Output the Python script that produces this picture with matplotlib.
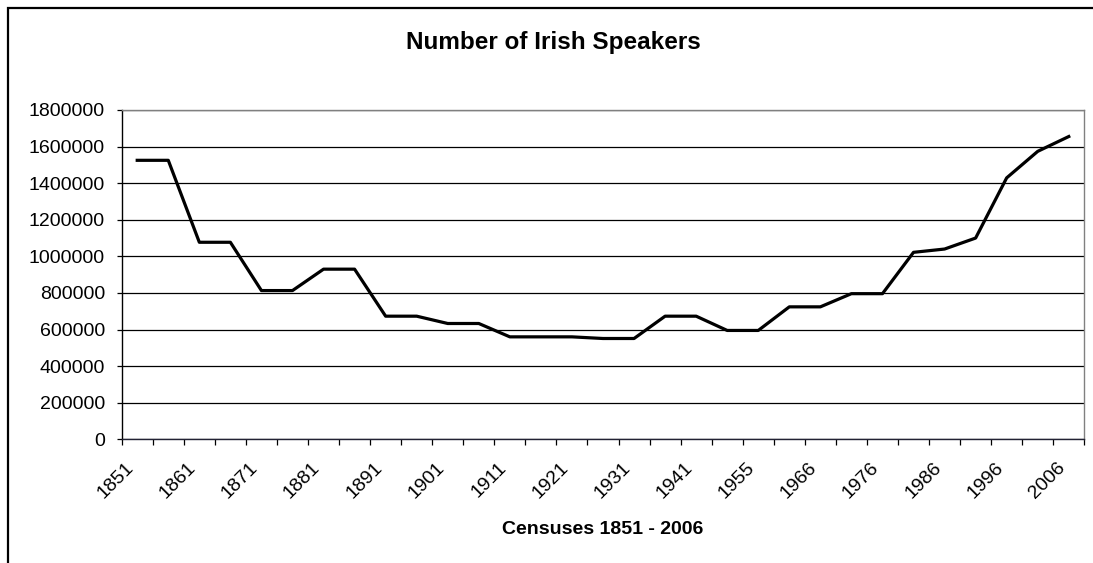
import matplotlib
matplotlib.use('Agg')
import matplotlib.pyplot as plt
import numpy as np
from matplotlib.patches import Rectangle
from matplotlib.ticker import FuncFormatter

# census labels (shown on every other category)
census_labels = ['1851', '1861', '1871', '1881', '1891', '1901', '1911', '1921',
                 '1931', '1941', '1955', '1966', '1976', '1986', '1996', '2006']

# number of Irish speakers, one value per category (31 categories)
speakers = [1525000, 1525000, 1077000, 1077000, 813000, 813000, 930000, 930000,
            673000, 673000, 633000, 633000, 560000, 560000, 560000, 551000,
            551000, 673000, 673000, 595000, 595000, 724000, 724000, 796000,
            796000, 1022000, 1040000, 1100000, 1429000, 1574000, 1655000]

title = 'Number of Irish Speakers'
xlabel = 'Censuses 1851 - 2006'


def plot_speakers(plot_file):
    plt.rcParams['font.family'] = ['Liberation Sans', 'DejaVu Sans']
    W, H = 1093, 563
    fig = plt.figure(figsize=(W / 100, H / 100), dpi=100)

    # plot area in pixels: left 121.7, right 1084.3, top 110, bottom 439.3
    left, right, top, bottom = 121.7, 1084.3, 110.0, 439.3
    ax = fig.add_axes([left / W, 1 - bottom / H, (right - left) / W, (bottom - top) / H])

    x = np.arange(len(speakers))
    ax.plot(x, speakers, color='black', lw=2.3, zorder=3)

    ax.set_xlim(-0.5, len(speakers) - 0.5)
    ax.set_ylim(0, 1800000)
    ax.set_yticks(range(0, 1800001, 200000))
    ax.yaxis.set_major_formatter(FuncFormatter(lambda v, p: '{:d}'.format(int(v))))
    ax.yaxis.grid(True, color='black', lw=0.9)
    ax.set_axisbelow(True)

    ax.set_xticks(x[::2])
    ax.set_xticklabels(census_labels, rotation=45, ha='right')
    ax.set_xticks(np.arange(-0.5, len(speakers), 1), minor=True)
    ax.tick_params(axis='x', which='major', length=0, pad=14, labelsize=14)
    ax.tick_params(axis='x', which='minor', length=4.3, width=0.9, direction='out')
    ax.tick_params(axis='y', length=3.6, width=0.9, pad=8.4, labelsize=14)

    for side in ['top', 'right']:
        ax.spines[side].set_color('#808080')
        ax.spines[side].set_linewidth(1.0)
    ax.spines['left'].set_color('black')
    ax.spines['bottom'].set_color('#222233')
    for side in ['left', 'bottom']:
        ax.spines[side].set_linewidth(1.0)

    fig.text(553 / W, 1 - 43 / H, title, ha='center', va='center',
             fontsize=17.5, fontweight='bold')
    fig.text(603 / W, 1 - 530 / H, xlabel, ha='center', va='center',
             fontsize=14, fontweight='bold')

    # chart area border (right and bottom run off the image)
    fig.patches.append(Rectangle((8 / W, -0.1), 1.2, 1.1 - 8 / H,
                                 transform=fig.transFigure, fill=False,
                                 ec='black', lw=1.6))

    fig.savefig(plot_file, dpi=100)


def main():
    plot_speakers('out.png')


if __name__ == '__main__':
    main()
